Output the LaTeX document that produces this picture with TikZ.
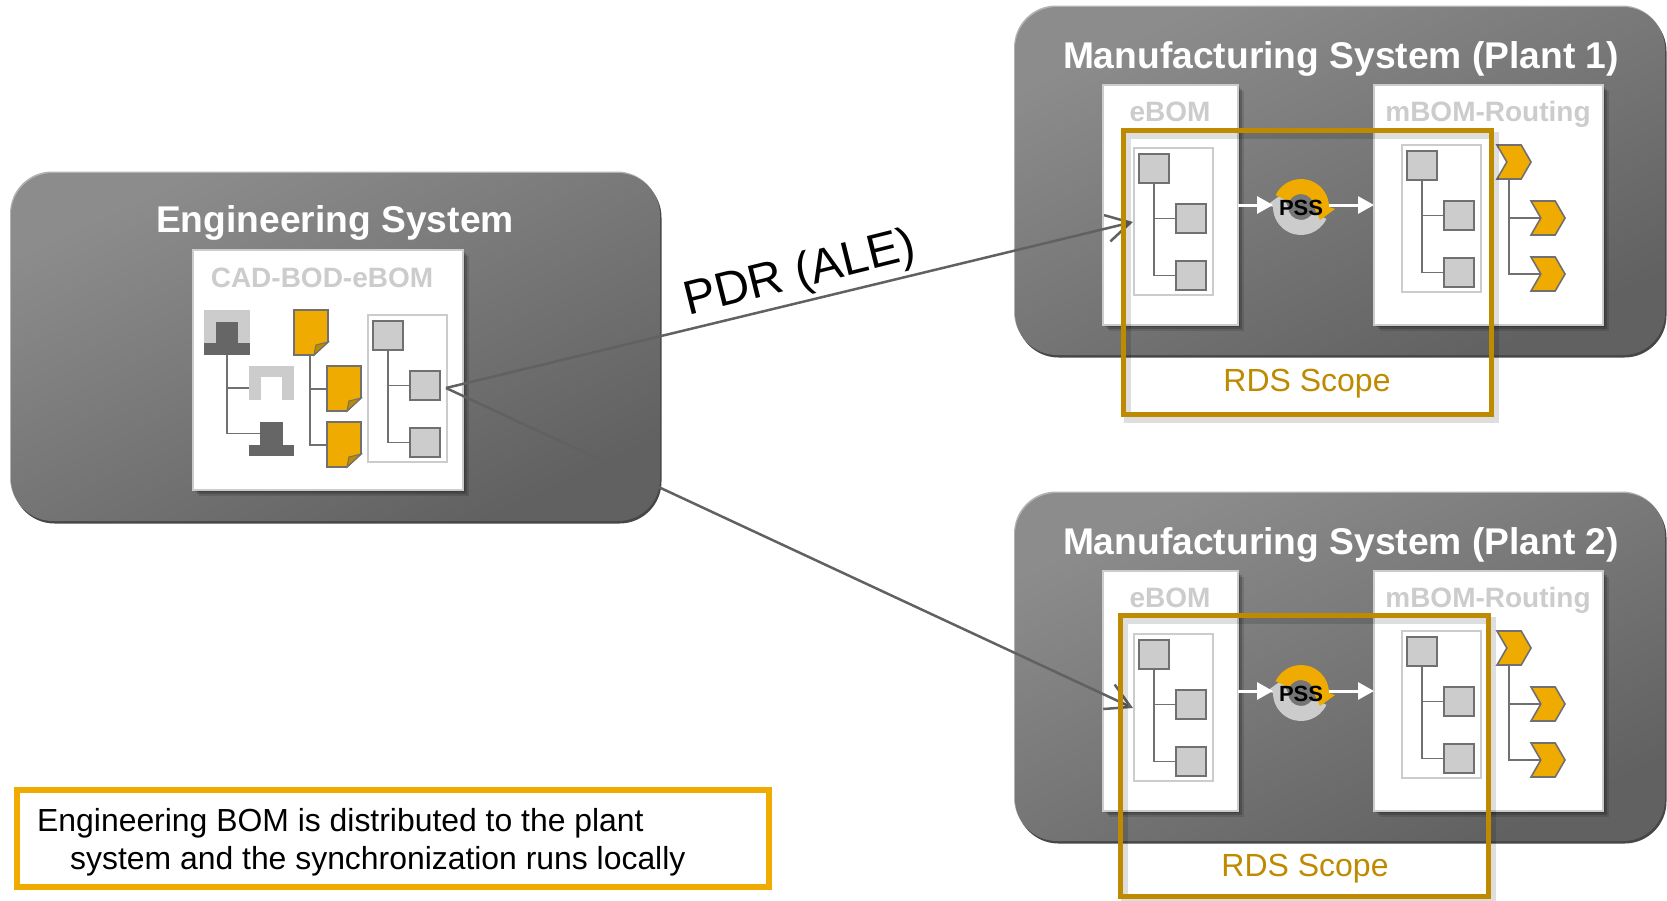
\documentclass[tikz,border=0pt]{standalone}
\usepackage{fontspec}
\setmainfont{Liberation Sans}
\usetikzlibrary{arrows.meta,shapes.symbols,shadows,fit}
\definecolor{sysgold}{HTML}{F0AB00}
\definecolor{scopegold}{HTML}{BD8A00}
\definecolor{boxgray}{HTML}{CCCCCC}
\definecolor{linegray}{HTML}{707070}
\definecolor{hatgray}{HTML}{666666}
\tikzset{
  softshadow/.style={general shadow={shadow xshift=2pt,shadow yshift=-2pt,fill=black,opacity=.18},
    general shadow={shadow xshift=4pt,shadow yshift=-4pt,fill=black,opacity=.18},
    general shadow={shadow xshift=6pt,shadow yshift=-6pt,fill=black,opacity=.12}},
  sysbox/.style={rectangle,rounded corners=42pt,inner sep=0pt,outer sep=0pt,anchor=north west,
    shading=axis,top color=black!45,bottom color=black!62,shading angle=25,
    general shadow={shadow xshift=1.5pt,shadow yshift=-2.5pt,fill=black!72},
    general shadow={shadow xshift=-1pt,shadow yshift=1.5pt,fill=black!30}},
  systitle/.style={font=\fontsize{37.2}{40}\selectfont\bfseries,text=white,inner sep=0pt},
  card/.style={rectangle,draw=boxgray,line width=2pt,fill=white,inner sep=0pt,outer sep=0pt,anchor=north west,softshadow},
  cardtitle/.style={font=\fontsize{28}{32}\selectfont\bfseries,text=boxgray,inner sep=0pt},
  treepanel/.style={rectangle,draw=boxgray,line width=1.5pt,fill=white,inner sep=0pt,outer sep=0pt,anchor=north west,minimum width=79pt,minimum height=147pt},
  treesq/.style={rectangle,draw=linegray,line width=2pt,fill=boxgray,inner sep=0pt,outer sep=0pt,anchor=north west,minimum width=30pt,minimum height=29pt},
  treeline/.style={draw=linegray,line width=1.6pt},
  hatlight/.style={rectangle,fill=boxgray,inner sep=0pt,outer sep=0pt,anchor=north west},
  hatdark/.style={rectangle,fill=hatgray,inner sep=0pt,outer sep=0pt,anchor=north west},
  chevron/.style={signal,signal from=west,signal to=east,signal pointer angle=120,fill=sysgold,draw=linegray,line width=1.6pt,inner sep=0pt,outer sep=0pt,minimum width=34pt,minimum height=34pt,anchor=north west},
  flow/.style={draw=white,line width=3pt,-{Triangle[length=16pt,width=17pt]}},
  link/.style={draw=black!62,line width=2.5pt,-{Straight Barb[length=24pt,width=27pt,line width=2.5pt]}},
  rdsframe/.style={rectangle,draw=scopegold,line width=5pt,inner sep=0pt,outer sep=0pt},
  rdsshade/.style={draw=black,line width=7pt,opacity=.13},
  rdstext/.style={font=\fontsize{32}{34}\selectfont,text=scopegold,inner sep=0pt},
  notetext/.style={anchor=west,inner sep=0pt,font=\fontsize{31.9}{38}\selectfont},
}
\newcommand{\bomtree}[3]{%
  \begin{scope}[shift={(#2,#3)}]
    \node[treepanel] (#1panel) at (0,0) {};
    \node[treesq] (#1a) at (5,6) {};
    \node[treesq] (#1b) at (42,56) {};
    \node[treesq] (#1c) at (42,113) {};
    \draw[treeline] (#1a.south) |- (#1b.west);
    \draw[treeline] (#1a.south) |- (#1c.west);
  \end{scope}}
\newcommand{\docicon}[3]{%
  \begin{scope}[shift={(#2,#3)}]
    \coordinate (#1foot) at (16,45);
    \coordinate (#1side) at (0,23);
    \draw[draw=linegray,line width=1.6pt,fill=sysgold] (0,0) -- (34,0) -- (34,32) -- (20,45) -- (0,45) -- cycle;
    \draw[draw=linegray,line width=1pt,fill=scopegold] (34,32) -- (22,35) -- (20,45) -- cycle;
  \end{scope}}
\newcommand{\plantsys}[3]{%
  \begin{scope}[shift={(0,#2)}]
    \node[sysbox,minimum width=650pt,minimum height=348pt] (plant#1) at (1015,7) {};
    \node[systitle] (title#1) at (1341,58.5) {Manufacturing System (Plant #3)};
    \node[card,minimum width=135pt,minimum height=240pt] (ebom#1) at (1103,85) {};
    \node[card,minimum width=229pt,minimum height=240pt] (mbom#1) at (1374,85) {};
    \node[cardtitle] (ebomlabel#1) at (1170,112) {eBOM};
    \node[cardtitle] (mbomlabel#1) at (1488,114) {mBOM-Routing};
    \bomtree{ebomtree#1}{1134}{148}
    \bomtree{mbomtree#1}{1402}{145}
    \draw[treeline] (1509,179) |- (1541,218);
    \draw[treeline] (1509,179) |- (1541,274);
    \node[chevron] (route#1a) at (1497,145) {};
    \node[chevron] (route#1b) at (1531,201) {};
    \node[chevron] (route#1c) at (1531,257) {};
    % synchronization ring
    \begin{scope}[shift={(1301,207)},yscale=-1]
      \foreach \ringcol/\ringrot in {boxgray/180,sysgold/0}{
        \fill[\ringcol,rotate=\ringrot] (155:28) arc[start angle=155,end angle=0,radius=28] -- (34,-2) -- (19,-13) -- (13,0) arc[start angle=0,end angle=155,radius=13] -- cycle;
      }
    \end{scope}
    \node[circle,minimum size=56pt,inner sep=0pt,outer sep=0pt,font=\fontsize{22}{24}\selectfont\bfseries] (pss#1) at (1301,207.5) {PSS};
    \draw[flow] ([yshift=2.5pt]ebom#1.east |- pss#1) -- ([yshift=2.5pt]pss#1.west);
    \draw[flow] ([yshift=2.5pt]pss#1.east) -- ([yshift=2.5pt]mbom#1.west |- pss#1);
    \coordinate (inlet#1) at (1133,222);
  \end{scope}}
\begin{document}
\begin{tikzpicture}[x=1pt,y=-1pt]
  \useasboundingbox (0,0) rectangle (1667,900);

  \plantsys{one}{0}{1}
  \plantsys{two}{486}{2}

  % engineering side
  \node[sysbox,minimum width=649pt,minimum height=348pt] (eng) at (11,173) {};
  \node[systitle] (engtitle) at (335,223) {Engineering System};
  \node[card,minimum width=270pt,minimum height=240pt] (engcard) at (193,250) {};
  \node[cardtitle] (englabel) at (322,278) {CAD-BOD-eBOM};

  \node[hatlight,minimum width=46pt,minimum height=45pt] (hata) at (204,310) {};
  \node[hatdark,minimum width=22pt,minimum height=21pt] (hatastem) at (216,322) {};
  \node[hatdark,minimum width=46pt,minimum height=12pt] (hatabase) at (204,343) {};
  \node[hatlight,minimum width=45pt,minimum height=34pt] (hatb) at (249,366) {};
  \fill[white] (261,377) rectangle (282,400);
  \node[hatdark,minimum width=23pt,minimum height=23pt] (hatcstem) at (260,422) {};
  \node[hatdark,minimum width=45pt,minimum height=11pt] (hatcbase) at (249,445) {};
  \draw[treeline] (hatabase.south) |- ([yshift=-5pt]hatb.west);
  \draw[treeline] (hatabase.south) |- (hatcstem.west);

  \docicon{doca}{294}{310}
  \docicon{docb}{327}{366}
  \docicon{docc}{327}{422}
  \draw[treeline] (docafoot) |- (docbside);
  \draw[treeline] (docafoot) |- (doccside);

  \bomtree{engtree}{368}{315}

  % distribution
  \coordinate (engout) at (446,388);
  \draw[link] (engout) -- (inletone);
  \draw[link] (engout) -- (inlettwo);
  \node[rotate=14,inner sep=0pt,font=\fontsize{47.8}{50}\selectfont] (pdr) at (800,275) {PDR (ALE)};

  % scope frames
  \draw[rdsshade] (1127,135) rectangle (1495,419);
  \node[rdsframe,fit={(1123.5,130.5)(1491.5,414.5)}] (rdsone) {};
  \node[rdstext] (rdsonelabel) at (1307,384) {RDS Scope};
  \draw[rdsshade] (1124,620) rectangle (1492,900);
  \node[rdsframe,fit={(1120.5,615.5)(1488.5,896)}] (rdstwo) {};
  \node[rdstext] (rdstwolabel) at (1305,869) {RDS Scope};

  % note
  \node[rectangle,draw=sysgold,line width=6pt,inner sep=0pt,outer sep=0pt,fit={(17,790)(769,887)}] (note) {};
  \node[notetext] (notea) at (37,823) {Engineering BOM is distributed to the plant};
  \node[notetext] (noteb) at (70,861) {system and the synchronization runs locally};
\end{tikzpicture}
\end{document}
